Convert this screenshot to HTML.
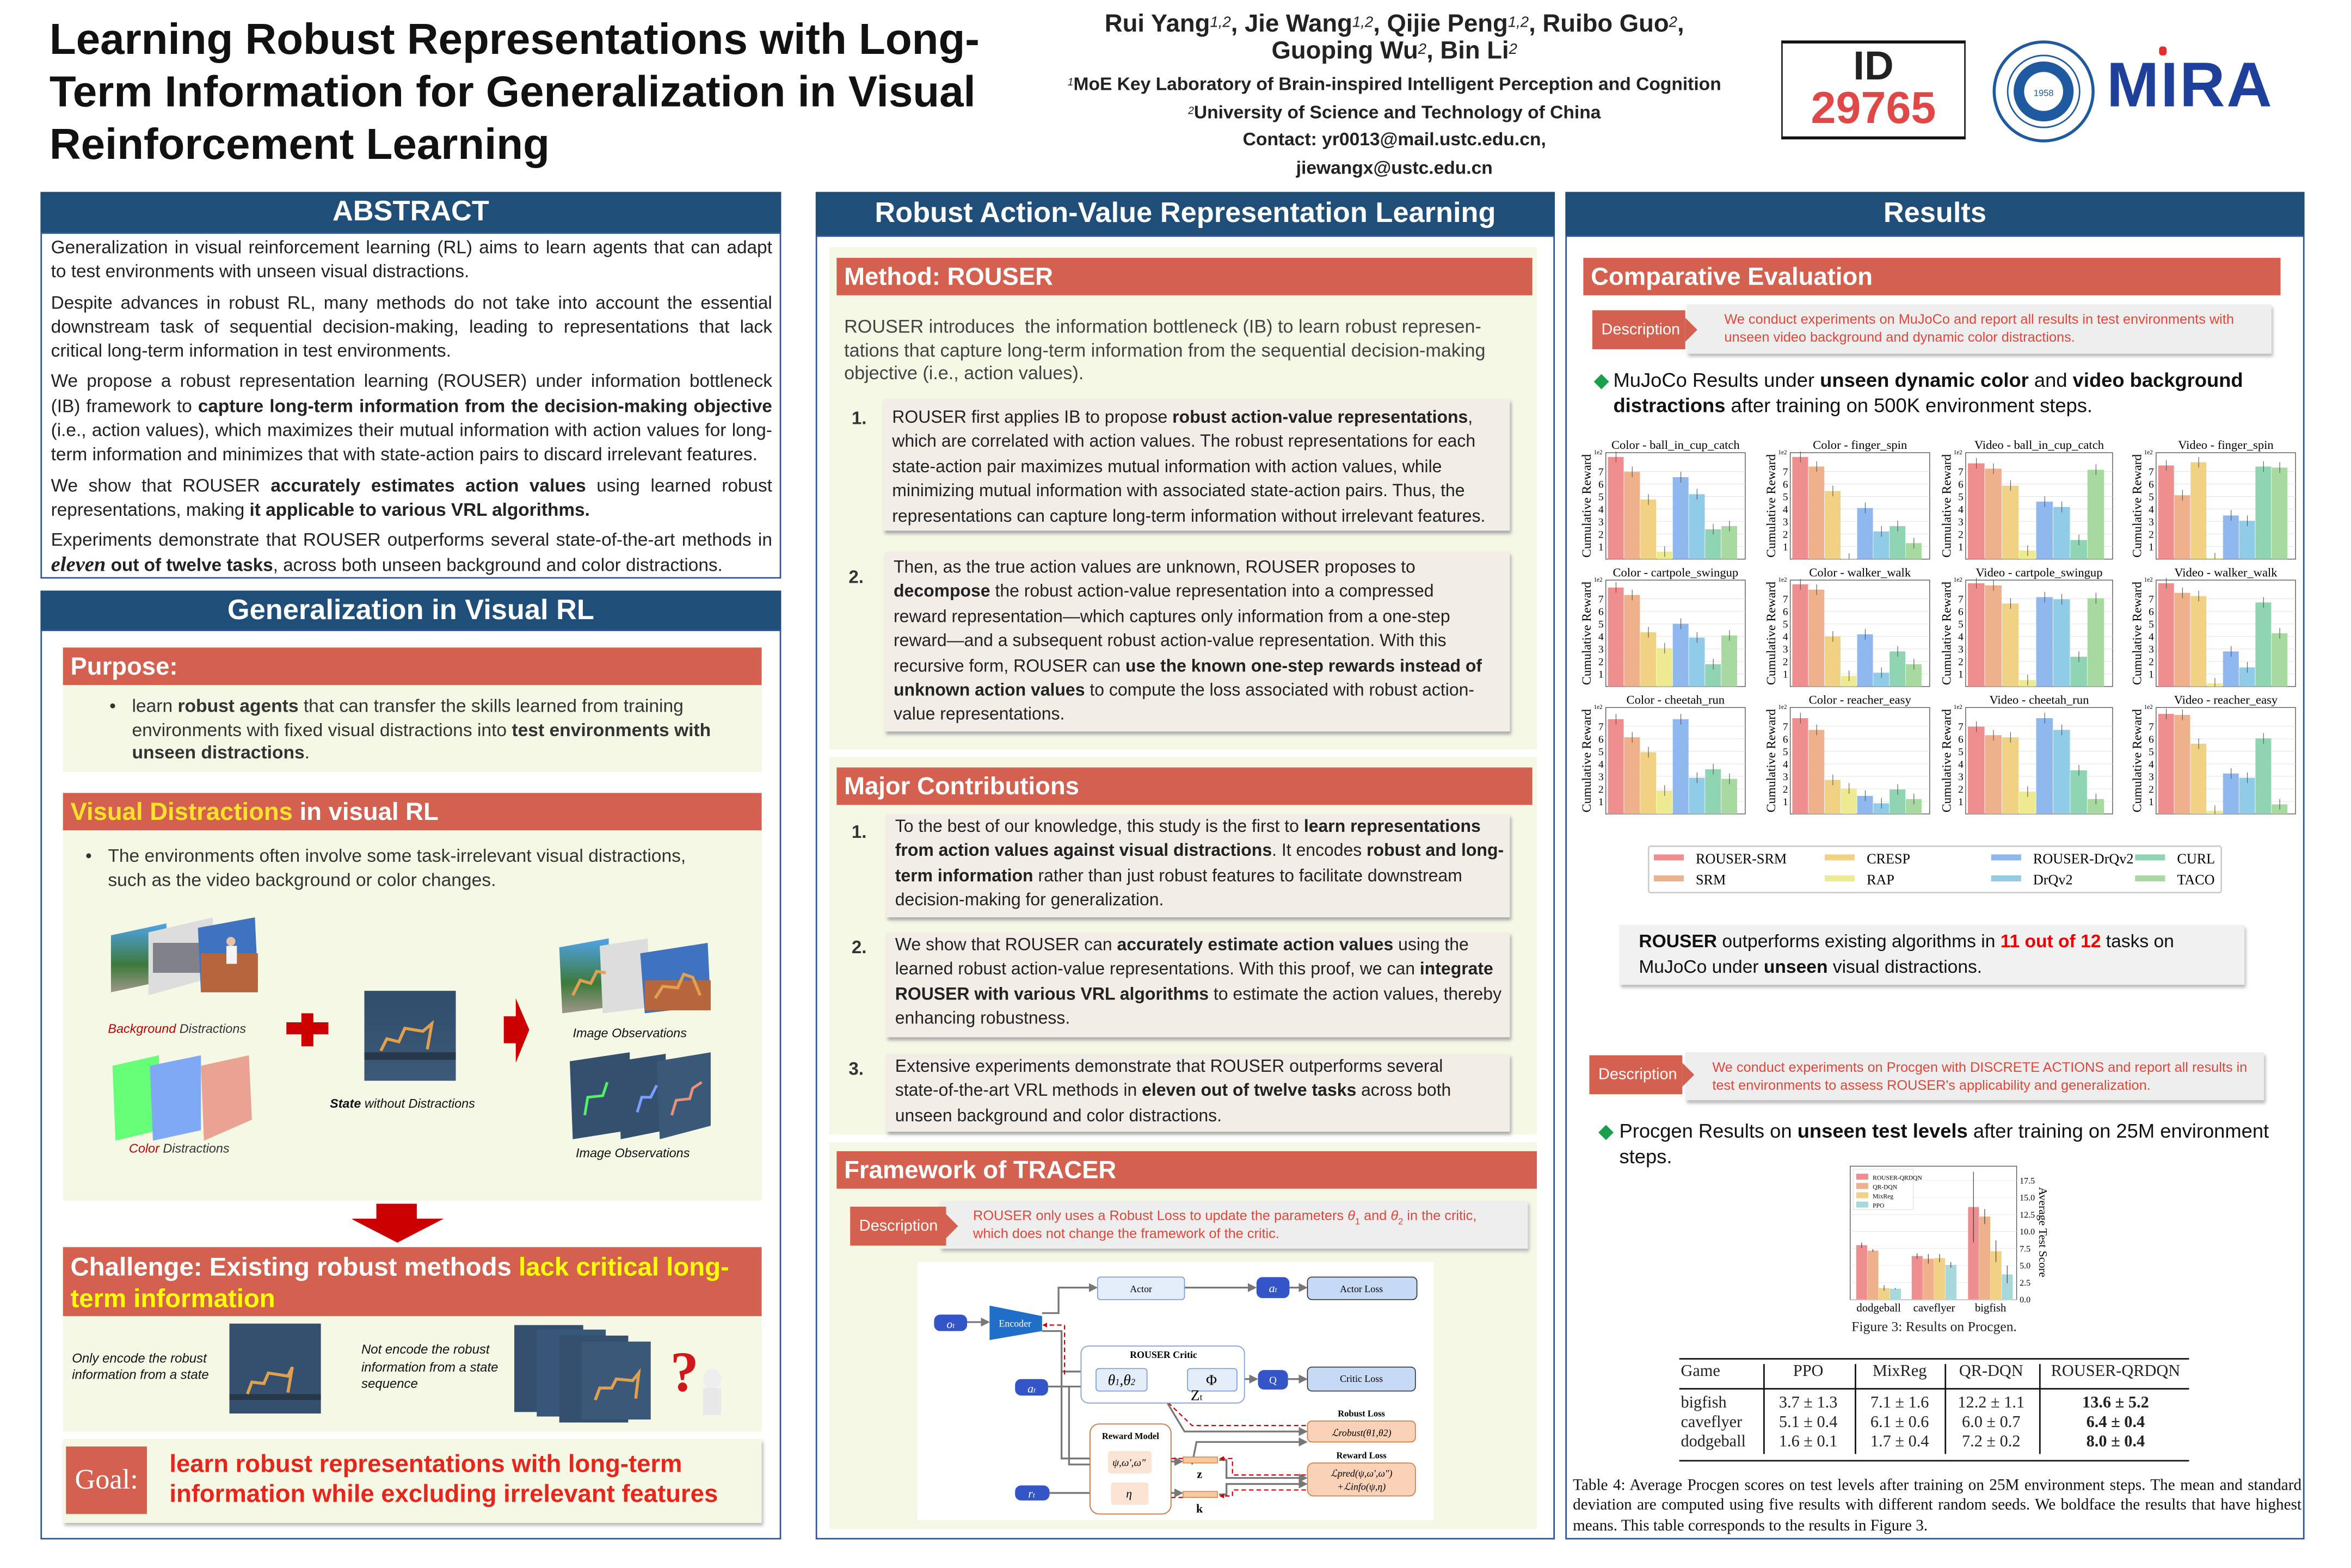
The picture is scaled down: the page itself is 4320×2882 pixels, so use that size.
<!DOCTYPE html>
<html><head><meta charset="utf-8">
<style>
html,body{margin:0;padding:0;background:#fff;}
body{width:4320px;height:2880px;overflow:hidden;position:relative;}
#p{position:absolute;left:0;top:0;width:1568px;height:1046px;transform:scale(2.755102);transform-origin:0 0;font-family:"Liberation Sans",Arial,sans-serif;color:#222;}
.a{position:absolute;}
.bh{position:absolute;background:#1f4e79;color:#fff;font-weight:bold;text-align:center;box-sizing:border-box;}
.bx{position:absolute;border:1.5px solid #2f5597;box-sizing:border-box;}
.rh{position:absolute;background:#d4604f;color:#fff;font-weight:bold;box-sizing:border-box;padding-left:5px;}
.cr{position:absolute;background:#f6f8e6;}
.it{position:absolute;background:#f2eee7;box-shadow:1px 2px 2px #aaa;font-size:11.6px;line-height:16.4px;color:#222;padding:2px 4px 2px 6px;box-sizing:border-box;}
.num{position:absolute;font-size:12px;font-weight:bold;color:#333;}
.j{text-align:justify;}
p{margin:0 0 4px 0;}
.tag{position:absolute;background:#d4604f;color:#fff;font-size:10.5px;line-height:26px;padding-left:6px;box-sizing:border-box;}
.tag:after{content:"";position:absolute;right:-8px;top:5px;border-left:8px solid #d4604f;border-top:8px solid transparent;border-bottom:8px solid transparent;}
.dt{position:absolute;background:#eeeeee;box-shadow:1px 2px 2px #bbb;color:#e0463a;font-size:9.2px;line-height:11.5px;box-sizing:border-box;padding:5px 10px 0 22px;}
.ser{font-family:"Liberation Serif",serif;}
</style></head><body>
<div id="p">
<!-- title -->
<div class="a" style="left:33px;top:10px;width:650px;font-size:29px;font-weight:bold;line-height:35px;color:#111;">Learning Robust Representations with Long-Term Information for Generalization in Visual Reinforcement Learning</div>
<div class="a" style="left:680px;top:7px;width:500px;text-align:center;font-size:16.5px;font-weight:bold;line-height:18px;">Rui Yang<i style="font-weight:normal;font-size:10px;vertical-align:top">1,2</i>, Jie Wang<i style="font-weight:normal;font-size:10px;vertical-align:top">1,2</i>, Qijie Peng<i style="font-weight:normal;font-size:10px;vertical-align:top">1,2</i>, Ruibo Guo<i style="font-weight:normal;font-size:10px;vertical-align:top">2</i>,<br>Guoping Wu<i style="font-weight:normal;font-size:10px;vertical-align:top">2</i>, Bin Li<i style="font-weight:normal;font-size:10px;vertical-align:top">2</i></div>
<div class="a" style="left:680px;top:47px;width:500px;text-align:center;font-size:12.2px;font-weight:bold;line-height:18.5px;"><i style="font-size:7px;font-weight:normal;vertical-align:top">1</i>MoE Key Laboratory of Brain-inspired Intelligent Perception and Cognition<br><i style="font-size:7px;font-weight:normal;vertical-align:top">2</i>University of Science and Technology of China<br>Contact: yr0013@mail.ustc.edu.cn,<br>jiewangx@ustc.edu.cn</div>
<div class="a" style="left:1188px;top:27px;width:123px;height:66px;border:1px solid #222;border-top:2px solid #111;border-bottom:2px solid #111;box-sizing:border-box;text-align:center;">
<div style="font-size:27px;font-weight:bold;line-height:28px;margin-top:1px;">ID</div>
<div style="font-size:30px;font-weight:bold;color:#e04848;line-height:30px;">29765</div></div>
<svg class="a" style="left:1328px;top:26px" width="70" height="70" viewBox="0 0 70 70"><circle cx="35" cy="35" r="33" fill="#fff" stroke="#1f5aa0" stroke-width="2"/><circle cx="35" cy="35" r="24" fill="none" stroke="#1f5aa0" stroke-width="1"/><circle cx="35" cy="35" r="20" fill="#1f5aa0"/><circle cx="35" cy="35" r="13" fill="#fff"/><text x="35" y="38" font-size="6" text-anchor="middle" fill="#1f5aa0">1958</text></svg>
<div class="a" style="left:1405px;top:32px;font-size:42px;font-weight:bold;color:#1e3f9a;letter-spacing:1px;font-family:'Liberation Sans',sans-serif;line-height:50px;">MIRA</div>
<div class="a" style="left:1440px;top:31px;width:5px;height:6px;background:#e03030;border-radius:2px;"></div>

<!-- LEFT column -->
<div class="bh" style="left:27px;top:128px;width:494px;height:27px;font-size:19px;line-height:28px;">ABSTRACT</div>
<div class="bx" style="left:27px;top:155px;width:494px;height:231px;"></div>
<div class="a j" style="left:34px;top:157px;width:481px;font-size:12.1px;line-height:16.3px;">
<p>Generalization in visual reinforcement learning (RL) aims to learn agents that can adapt to test environments with unseen visual distractions.</p>
<p>Despite advances in robust RL, many methods do not take into account the essential downstream task of sequential decision-making, leading to representations that lack critical long-term information in test environments.</p>
<p>We propose a robust representation learning (ROUSER) under information bottleneck (IB) framework to <b>capture long-term information from the decision-making objective</b> (i.e., action values), which maximizes their mutual information with action values for long-term information and minimizes that with state-action pairs to discard irrelevant features.</p>
<p>We show that ROUSER <b>accurately estimates action values</b> using learned robust representations, making <b>it applicable to various VRL algorithms.</b></p>
<p>Experiments demonstrate that ROUSER outperforms several state-of-the-art methods in <b><i class="ser" style="font-size:14px">eleven</i> out of twelve tasks</b>, across both unseen background and color distractions.</p></div>

<div class="bh" style="left:27px;top:394px;width:494px;height:27px;font-size:19px;line-height:27px;">Generalization in Visual RL</div>
<div class="bx" style="left:27px;top:420px;width:494px;height:607px;"></div>
<div class="rh" style="left:42px;top:432px;width:466px;height:25px;font-size:16.5px;line-height:26px;">Purpose:</div>
<div class="cr" style="left:42px;top:457px;width:466px;height:58px;"></div>
<div class="a" style="left:88px;top:464px;width:414px;font-size:12.2px;line-height:15.5px;color:#333;"><span style="position:absolute;left:-15px">•</span>learn <b>robust agents</b> that can transfer the skills learned from training environments with fixed visual distractions into <b>test environments with unseen distractions</b>.</div>

<div class="rh" style="left:42px;top:529px;width:466px;height:25px;font-size:16.5px;line-height:26px;"><span style="color:#ffe12e">Visual Distractions</span> in visual RL</div>
<div class="cr" style="left:42px;top:554px;width:466px;height:247px;"></div>
<div class="a" style="left:72px;top:564px;width:410px;font-size:12.2px;line-height:15.5px;color:#333;"><span style="position:absolute;left:-15px">•</span>The environments often involve some task-irrelevant visual distractions, such as the video background or color changes.</div>
<svg class="a" style="left:42px;top:554px" width="466" height="247" viewBox="0 0 466 247">
<defs><linearGradient id="sky" x1="0" y1="0" x2="0" y2="1"><stop offset="0" stop-color="#4fa3e8"/><stop offset=".6" stop-color="#3d7a3a"/><stop offset="1" stop-color="#a0978a"/></linearGradient>
<linearGradient id="st" x1="0" y1="0" x2="0" y2="1"><stop offset="0" stop-color="#2f4e6c"/><stop offset="1" stop-color="#3c5a78"/></linearGradient></defs>
<polygon points="32,70 69,62 69,100 32,108" fill="url(#sky)"/>
<polygon points="57,68 100,58 100,98 57,110" fill="#ddd"/><rect x="60" y="75" width="38" height="20" fill="#445" opacity=".6"/>
<polygon points="90,65 128,58 130,100 92,108" fill="#3f73c0"/><rect x="92" y="82" width="38" height="26" fill="#b7653c"/><circle cx="112" cy="74" r="3" fill="#e8c2a8"/><rect x="109" y="77" width="7" height="12" fill="#f4f4f4"/>
<text x="30" y="135" font-size="8.5" font-style="italic" fill="#b00">Background <tspan fill="#333">Distractions</tspan></text>
<polygon points="33,157 64,150 64,200 35,207" fill="#66ff77"/>
<polygon points="58,157 92,150 92,200 60,207" fill="#7fa8f5"/>
<polygon points="92,157 124,150 126,193 94,207" fill="#eaa293"/>
<text x="44" y="215" font-size="8.5" font-style="italic" fill="#b00">Color <tspan fill="#333">Distractions</tspan></text>
<rect x="149" y="128" width="28" height="8" fill="#c00"/><rect x="159" y="122" width="8" height="22" fill="#c00"/>
<rect x="201" y="107" width="61" height="60" fill="url(#st)"/><rect x="201" y="148" width="61" height="5" fill="#27384a"/>
<polyline points="212,147 216,139 224,141 228,132 240,134 246,129 243,146" fill="none" stroke="#e0a050" stroke-width="2"/>
<text x="178" y="185" font-size="8.5" font-style="italic" fill="#111"><tspan font-weight="bold">State</tspan> without Distractions</text>
<polygon points="294,124 302,124 302,112 311,133 302,155 302,142 294,142" fill="#c00"/>
<polygon points="331,78 364,72 364,118 333,122" fill="url(#sky)"/>
<polygon points="358,77 390,72 392,118 360,122" fill="#ddd"/>
<polygon points="385,82 430,75 432,117 388,122" fill="#3f73c0"/><rect x="388" y="100" width="44" height="20" fill="#b7653c"/>
<polyline points="340,110 345,100 352,102 356,94 362,95" fill="none" stroke="#e0a050" stroke-width="2"/>
<polyline points="395,112 400,104 410,105 414,96 420,98 425,110" fill="none" stroke="#e0a050" stroke-width="2"/>
<text x="340" y="138" font-size="8.5" font-style="italic" fill="#111">Image Observations</text>
<polygon points="338,154 378,148 378,200 340,206" fill="#34506e"/>
<polygon points="370,154 402,149 402,200 372,206" fill="#34506e"/>
<polygon points="396,154 432,148 432,197 398,206" fill="#3a5877"/>
<polyline points="348,190 350,178 360,177 363,168" fill="none" stroke="#55ee66" stroke-width="1.8"/>
<polyline points="383,188 386,178 392,178 396,170" fill="none" stroke="#77a0ff" stroke-width="1.8"/>
<polyline points="406,190 409,180 418,179 420,172 426,168" fill="none" stroke="#e8907a" stroke-width="1.8"/>
<text x="342" y="218" font-size="8.5" font-style="italic" fill="#111">Image Observations</text>
</svg>
<svg class="a" style="left:235px;top:803px" width="70" height="28"><polygon points="13,0 40,0 40,10 58,10 27,26 -4,10 13,10" fill="#c00" transform="translate(3,0)"/></svg>
<div class="rh" style="left:42px;top:832px;width:466px;height:46px;font-size:17.2px;line-height:21px;padding-top:3px;padding-right:20px;">Challenge: Existing robust methods <span style="color:#ffff00">lack critical long-term information</span></div>
<div class="cr" style="left:42px;top:878px;width:466px;height:77px;"></div>
<div class="a" style="left:48px;top:901px;font-size:8.7px;font-style:italic;line-height:11px;color:#111;">Only encode the robust<br>information from a state</div>
<div class="a" style="left:241px;top:895px;font-size:8.7px;font-style:italic;line-height:11.5px;color:#111;">Not encode the robust<br>information from a state<br>sequence</div>
<svg class="a" style="left:42px;top:878px" width="466" height="77">
<rect x="111" y="5" width="61" height="60" fill="#34506e"/><rect x="111" y="52" width="61" height="4" fill="#27384a"/>
<polyline points="123,52 126,44 134,45 137,38 150,40 153,34 150,51" fill="none" stroke="#e0a050" stroke-width="2"/>
<rect x="301" y="6" width="46" height="58" fill="#34506e"/><rect x="316" y="9" width="46" height="58" fill="#38557a"/><rect x="331" y="13" width="46" height="58" fill="#34506e"/><rect x="346" y="17" width="46" height="52" fill="#3a5877"/>
<polyline points="355,56 358,48 366,48 369,42 380,43 384,38 382,55" fill="none" stroke="#e0a050" stroke-width="2"/>
<text x="405" y="50" font-size="38" font-weight="bold" fill="#d01818" font-family="Liberation Serif,serif">?</text>
<ellipse cx="433" cy="42" rx="6" ry="7" fill="#eee"/><rect x="427" y="48" width="12" height="18" fill="#e8e8e8"/>
</svg>
<div class="cr" style="left:42px;top:960px;width:466px;height:56px;box-shadow:1px 2px 2px #bbb;"></div>
<div class="a" style="left:44px;top:965px;width:54px;height:45px;background:#d4604f;color:#fff;font-family:'Liberation Serif',serif;font-size:19px;line-height:45px;text-align:center;">Goal:</div>
<div class="a" style="left:113px;top:967px;font-size:16.5px;font-weight:bold;line-height:20px;color:#e8251a;">learn robust representations with long-term<br>information while excluding irrelevant features</div>

<!-- MIDDLE column -->
<div class="bh" style="left:544px;top:128px;width:493px;height:29px;font-size:19px;line-height:30px;">Robust Action-Value Representation Learning</div>
<div class="bx" style="left:544px;top:157px;width:493px;height:870px;"></div>
<div class="cr" style="left:553px;top:165px;width:472px;height:335px;"></div>
<div class="rh" style="left:558px;top:172px;width:464px;height:25px;font-size:16.5px;line-height:26px;">Method: ROUSER</div>
<div class="a" style="left:563px;top:211px;width:450px;font-size:12.4px;line-height:15.5px;color:#444;">ROUSER introduces&nbsp; the information bottleneck (IB) to learn robust represen-tations that capture long-term information from the sequential decision-making objective (i.e., action values).</div>
<div class="num" style="left:568px;top:272px;">1.</div>
<div class="it" style="left:589px;top:266px;width:418px;height:88px;padding-top:5px;">ROUSER first applies IB to propose <b>robust action-value representations</b>, which are correlated with action values. The robust representations for each state-action pair maximizes mutual information with action values, while minimizing mutual information with associated state-action pairs. Thus, the representations can capture long-term information without irrelevant features.</div>
<div class="num" style="left:566px;top:378px;">2.</div>
<div class="it" style="left:590px;top:368px;width:417px;height:120px;padding-top:3px;padding-right:14px;">Then, as the true action values are unknown, ROUSER proposes to <b>decompose</b> the robust action-value representation into a compressed reward representation—which captures only information from a one-step reward—and a subsequent robust action-value representation. With this recursive form, ROUSER can <b>use the known one-step rewards instead of unknown action values</b> to compute the loss associated with robust action-value representations.</div>

<div class="cr" style="left:553px;top:505px;width:472px;height:252px;"></div>
<div class="rh" style="left:558px;top:512px;width:464px;height:25px;font-size:16.5px;line-height:26px;">Major Contributions</div>
<div class="num" style="left:568px;top:548px;">1.</div>
<div class="it" style="left:591px;top:543px;width:416px;height:69px;padding-top:1px;">To the best of our knowledge, this study is the first to <b>learn representations from action values against visual distractions</b>. It encodes <b>robust and long-term information</b> rather than just robust features to facilitate downstream decision-making for generalization.</div>
<div class="num" style="left:568px;top:625px;">2.</div>
<div class="it" style="left:591px;top:622px;width:416px;height:70px;padding-top:1px;">We show that ROUSER can <b>accurately estimate action values</b> using the learned robust action-value representations. With this proof, we can <b>integrate ROUSER with various VRL algorithms</b> to estimate the action values, thereby enhancing robustness.</div>
<div class="num" style="left:566px;top:706px;">3.</div>
<div class="it" style="left:591px;top:703px;width:416px;height:52px;padding-top:1px;padding-right:20px;">Extensive experiments demonstrate that ROUSER outperforms several state-of-the-art VRL methods in <b>eleven out of twelve tasks</b> across both unseen background and color distractions.</div>

<div class="cr" style="left:553px;top:762px;width:472px;height:258px;"></div>
<div class="rh" style="left:558px;top:768px;width:467px;height:25px;font-size:16.5px;line-height:26px;">Framework of TRACER</div>
<div class="dt" style="left:627px;top:801px;width:392px;height:32px;">ROUSER only uses a Robust Loss to update the parameters <i>θ</i><sub style="font-size:6px;line-height:0">1</sub> and <i>θ</i><sub style="font-size:6px;line-height:0">2</sub> in the critic, which does not change the framework of the critic.</div>
<div class="tag" style="left:567px;top:805px;width:64px;height:26px;">Description</div>
<div class="a" style="left:612px;top:842px;width:344px;height:172px;background:#fff;"></div>
<svg class="a" style="left:0;top:0" width="1568" height="1046" font-family="Liberation Serif,serif">
<defs><marker id="ar" markerWidth="5" markerHeight="5" refX="4" refY="2.5" orient="auto"><path d="M0,0 L5,2.5 L0,5z" fill="#777"/></marker>
<marker id="rr" markerWidth="4" markerHeight="4" refX="3" refY="2" orient="auto"><path d="M0,0 L4,2 L0,4z" fill="#c00"/></marker></defs>
<g stroke="#777" stroke-width="1.2" fill="none" marker-end="url(#ar)">
<path d="M645,882 L659,882"/><path d="M695,876 L706,876 L706,859 L731,859"/><path d="M790,859 L837,859"/><path d="M860,859 L871,859"/>
<path d="M695,888 L708,888 L708,915 L730,915"/><path d="M699,925 L730,925"/><path d="M765,920 L791,920"/><path d="M825,920 L838,920"/><path d="M859,920 L871,920"/>
<path d="M708,915 L708,973 L738,973"/><path d="M713,925 L713,977 L738,977"/><path d="M700,996 L740,996"/>
<path d="M768,975 L788,975"/><path d="M766,996 L788,996"/>
<path d="M775,930 L790,955 L871,955"/><path d="M795,977 L798,962 L871,962"/>
<path d="M813,974 L818,974 L818,986 L871,986"/><path d="M813,997 L818,997 L818,990 L871,990"/>
</g>
<g stroke="#c00" stroke-width=".8" fill="none" stroke-dasharray="3,2" marker-end="url(#rr)">
<path d="M871,951 L795,951 L770,927 L762,927"/><path d="M710,917 L710,884 L696,884"/>
<path d="M871,984 L822,984 L822,973 L814,973"/><path d="M871,994 L822,994 L822,998 L814,998"/>
<path d="M789,973 L770,973"/><path d="M789,999 L768,999"/></g>
<rect x="623" y="877" width="22" height="11" rx="4" fill="#3355c8"/><text x="634" y="886" font-size="8" fill="#fff" text-anchor="middle" font-style="italic">o<tspan font-size="5">t</tspan></text>
<polygon points="660,871 695,878 695,888 660,894" fill="#1f6fc8"/><text x="677" y="885" font-size="6.5" fill="#fff" text-anchor="middle">Encoder</text>
<rect x="732" y="852" width="58" height="15" rx="2" fill="#e4eefa" stroke="#7a9acc" stroke-width=".6"/><text x="761" y="862" font-size="6.5" text-anchor="middle">Actor</text>
<rect x="838" y="852" width="22" height="14" rx="4" fill="#3355c8"/><text x="849" y="862" font-size="8" fill="#fff" text-anchor="middle" font-style="italic">a<tspan font-size="5">t</tspan></text>
<rect x="872" y="852" width="73" height="15" rx="3" fill="#c6daf5" stroke="#333" stroke-width=".6"/><text x="908" y="862" font-size="6.5" text-anchor="middle">Actor Loss</text>
<rect x="721" y="898" width="109" height="38" rx="5" fill="#fff" stroke="#8aa8d8" stroke-width=".7"/><text x="776" y="906" font-size="6.5" text-anchor="middle" font-weight="bold">ROUSER Critic</text>
<rect x="731" y="913" width="34" height="15" rx="2" fill="#e4eefa" stroke="#7a9acc" stroke-width=".6"/><text x="748" y="924" font-size="10" text-anchor="middle" font-style="italic">θ<tspan font-size="6">1</tspan>,θ<tspan font-size="6">2</tspan></text>
<rect x="792" y="913" width="33" height="15" rx="2" fill="#e4eefa" stroke="#7a9acc" stroke-width=".6"/><text x="808" y="924" font-size="10" text-anchor="middle">Φ</text>
<text x="798" y="934" font-size="10" text-anchor="middle">Z<tspan font-size="6">t</tspan></text>
<rect x="839" y="914" width="20" height="13" rx="4" fill="#3355c8"/><text x="849" y="923" font-size="7" fill="#fff" text-anchor="middle">Q</text>
<rect x="872" y="912" width="72" height="16" rx="3" fill="#c6daf5" stroke="#333" stroke-width=".6"/><text x="908" y="922" font-size="6.5" text-anchor="middle">Critic Loss</text>
<rect x="677" y="920" width="22" height="11" rx="4" fill="#3355c8"/><text x="688" y="929" font-size="8" fill="#fff" text-anchor="middle" font-style="italic">a<tspan font-size="5">t</tspan></text>
<text x="908" y="945" font-size="6" text-anchor="middle" font-weight="bold">Robust Loss</text>
<rect x="872" y="948" width="72" height="14" rx="3" fill="#f9d2b8" stroke="#c77a4a" stroke-width=".6"/><text x="908" y="958" font-size="6.5" text-anchor="middle" font-style="italic">ℒrobust(θ1,θ2)</text>
<rect x="727" y="950" width="54" height="60" rx="6" fill="#fff" stroke="#c77a4a" stroke-width=".7"/><text x="754" y="960" font-size="6" text-anchor="middle" font-weight="bold">Reward Model</text>
<rect x="739" y="968" width="29" height="15" rx="2" fill="#fbe4d4"/><text x="753" y="978" font-size="7" text-anchor="middle" font-style="italic">ψ,ω′,ω″</text>
<rect x="741" y="989" width="25" height="15" rx="2" fill="#fbe4d4"/><text x="753" y="999" font-size="8" text-anchor="middle" font-style="italic">η</text>
<rect x="789" y="972" width="23" height="4" fill="#f8c8a0" stroke="#e07a30" stroke-width=".5"/><text x="800" y="986" font-size="8" text-anchor="middle" font-weight="bold">z</text>
<rect x="789" y="995" width="23" height="4" fill="#f8c8a0" stroke="#e07a30" stroke-width=".5"/><text x="800" y="1009" font-size="8" text-anchor="middle" font-weight="bold">k</text>
<text x="908" y="973" font-size="6" text-anchor="middle" font-weight="bold">Reward Loss</text>
<rect x="872" y="976" width="72" height="22" rx="4" fill="#f9d2b8" stroke="#c77a4a" stroke-width=".6"/><text x="908" y="985" font-size="6.5" text-anchor="middle" font-style="italic">ℒpred(ψ,ω′,ω″)</text><text x="908" y="994" font-size="6.5" text-anchor="middle" font-style="italic">+ℒinfo(ψ,η)</text>
<rect x="677" y="991" width="23" height="10" rx="4" fill="#3355c8"/><text x="688" y="999" font-size="8" fill="#fff" text-anchor="middle" font-style="italic">r<tspan font-size="5">t</tspan></text>
</svg>

<!-- RIGHT column -->
<div class="bh" style="left:1044px;top:128px;width:493px;height:29px;font-size:19px;line-height:30px;">Results</div>
<div class="bx" style="left:1044px;top:157px;width:493px;height:870px;"></div>
<div class="rh" style="left:1056px;top:172px;width:465px;height:25px;font-size:16.5px;line-height:26px;">Comparative Evaluation</div>
<div class="dt" style="left:1125px;top:203px;width:390px;height:33px;padding-left:25px;">We conduct experiments on MuJoCo and report all results in test environments with unseen video background and dynamic color distractions.</div>
<div class="tag" style="left:1062px;top:207px;width:62px;height:26px;">Description</div>
<div class="a" style="left:1063px;top:246px;width:460px;font-size:13.2px;line-height:16.5px;color:#111;"><span style="color:#1aa04a;position:absolute;left:0">◆</span><div style="padding-left:13px">MuJoCo Results under <b>unseen dynamic color</b> and <b>video background distractions</b> after training on 500K environment steps.</div></div>
<div class="a" style="left:1099px;top:564px;width:383px;height:32px;border:1px solid #ccc;border-radius:2px;box-sizing:border-box;background:#fff;"></div>
<svg id="charts" class="a" style="left:0;top:0" width="1568" height="1046"></svg>
<div class="a" style="left:1080px;top:617px;width:417px;height:40px;background:#f1f1f1;box-shadow:1px 2px 2px #bbb;"></div>
<div class="a" style="left:1093px;top:620px;width:400px;font-size:12.2px;line-height:16.5px;color:#111;"><b>ROUSER</b> outperforms existing algorithms in <b style="color:#e00">11 out of 12</b> tasks on MuJoCo under <b>unseen</b> visual distractions.</div>
<div class="dt" style="left:1124px;top:702px;width:386px;height:32px;padding-left:18px;">We conduct experiments on Procgen with DISCRETE ACTIONS and report all results in test environments to assess ROUSER's applicability and generalization.</div>
<div class="tag" style="left:1060px;top:704px;width:62px;height:26px;">Description</div>
<div class="a" style="left:1066px;top:747px;width:460px;font-size:13.2px;line-height:16.5px;color:#111;"><span style="color:#1aa04a;position:absolute;left:0">◆</span><div style="padding-left:14px">Procgen Results on <b>unseen test levels</b> after training on 25M environment steps.</div></div>
<div class="a ser" style="left:1190px;top:881px;width:200px;text-align:center;font-size:9.3px;">Figure 3: Results on Procgen.</div>
<div class="a ser" style="left:1120px;top:906px;width:340px;height:67px;border-top:1.5px solid #111;border-bottom:1.5px solid #111;font-size:11px;"></div>
<div class="a" style="left:1120px;top:926px;width:340px;height:0;border-top:1px solid #111;"></div>
<div class="a ser" style="left:1121px;top:909px;font-size:11px;line-height:13px;">Game</div>
<div class="a ser" style="left:1121px;top:930px;font-size:11px;line-height:13px;">bigfish<br>caveflyer<br>dodgeball</div>
<div class="a ser" style="left:1177px;top:909px;width:58px;text-align:center;font-size:11px;line-height:13px;">PPO</div>
<div class="a ser" style="left:1177px;top:930px;width:58px;text-align:center;font-size:11px;line-height:13px;">3.7 ± 1.3<br>5.1 ± 0.4<br>1.6 ± 0.1</div>
<div class="a ser" style="left:1238px;top:909px;width:58px;text-align:center;font-size:11px;line-height:13px;">MixReg</div>
<div class="a ser" style="left:1238px;top:930px;width:58px;text-align:center;font-size:11px;line-height:13px;">7.1 ± 1.6<br>6.1 ± 0.6<br>1.7 ± 0.4</div>
<div class="a ser" style="left:1298px;top:909px;width:60px;text-align:center;font-size:11px;line-height:13px;">QR-DQN</div>
<div class="a ser" style="left:1298px;top:930px;width:60px;text-align:center;font-size:11px;line-height:13px;">12.2 ± 1.1<br>6.0 ± 0.7<br>7.2 ± 0.2</div>
<div class="a ser" style="left:1362px;top:909px;width:98px;text-align:center;font-size:11px;line-height:13px;">ROUSER-QRDQN</div>
<div class="a ser" style="left:1362px;top:930px;width:98px;text-align:center;font-size:11px;line-height:13px;font-weight:bold;">13.6 ± 5.2<br>6.4 ± 0.4<br>8.0 ± 0.4</div>
<div class="a" style="left:1176px;top:910px;height:60px;border-left:.8px solid #111;"></div>
<div class="a" style="left:1237px;top:910px;height:60px;border-left:.8px solid #111;"></div>
<div class="a" style="left:1297px;top:910px;height:60px;border-left:.8px solid #111;"></div>
<div class="a" style="left:1360px;top:910px;height:60px;border-left:.8px solid #111;"></div>
<div class="a ser j" style="left:1049px;top:985px;width:486px;font-size:10.6px;line-height:13.4px;color:#111;">Table 4: Average Procgen scores on test levels after training on 25M environment steps. The mean and standard deviation are computed using five results with different random seeds. We boldface the results that have highest means. This table corresponds to the results in Figure 3.</div>
</div>
<script>
(function(){
var C=["#ee8e8e","#efb08c","#f1d184","#eeea92","#8eb8ee","#90cbe8","#8fd5b4","#a7d9a0"];
var names=["ROUSER-SRM","SRM","CRESP","RAP","ROUSER-DrQv2","DrQv2","CURL","TACO"];
var titles=["Color - ball_in_cup_catch","Color - finger_spin","Video - ball_in_cup_catch","Video - finger_spin","Color - cartpole_swingup","Color - walker_walk","Video - cartpole_swingup","Video - walker_walk","Color - cheetah_run","Color - reacher_easy","Video - cheetah_run","Video - reacher_easy"];
var D=[[.96,.82,.56,.07,.77,.61,.28,.31],[.96,.87,.64,0,.48,.26,.31,.15],[.90,.85,.69,.08,.54,.49,.18,.84],[.88,.60,.91,.01,.41,.36,.87,.86],
[.93,.86,.51,.36,.59,.46,.21,.48],[.96,.91,.47,.10,.49,.13,.33,.21],[.97,.95,.78,.06,.84,.82,.28,.83],[.97,.88,.85,.03,.33,.18,.79,.50],
[.89,.72,.58,.22,.89,.34,.42,.33],[.90,.79,.32,.24,.17,.10,.23,.14],[.82,.74,.72,.21,.90,.79,.41,.14],[.94,.93,.66,.03,.38,.34,.71,.09]];
var cols=[[1071,1164],[1194,1287],[1311,1409],[1438,1531]],rows=[[302,373],[387,458],[472,543]];
var s="";
for(var k=0;k<12;k++){var r=rows[Math.floor(k/4)],c=cols[k%4],x0=c[0],x1=c[1],y0=r[0],y1=r[1],W=x1-x0,H=y1-y0;
s+='<rect x="'+x0+'" y="'+y0+'" width="'+W+'" height="'+H+'" fill="#fff" stroke="#555" stroke-width=".5"/>';
for(var g=1;g<8;g++){s+='<line x1="'+x0+'" x2="'+x1+'" y1="'+(y1-H*g/8.5)+'" y2="'+(y1-H*g/8.5)+'" stroke="#ddd" stroke-width=".3"/>';
s+='<text x="'+(x0-1.5)+'" y="'+(y1-H*g/8.5+2.5)+'" font-size="7" text-anchor="end">'+g+'</text>';}
var bw=W*0.93/8,bx=x0+W*0.015;
for(var i=0;i<8;i++){var h=Math.max(D[k][i]*H,0.3);s+='<rect x="'+(bx+i*bw)+'" y="'+(y1-h)+'" width="'+(bw-0.3)+'" height="'+h+'" fill="'+C[i]+'"/>';
var e=H*0.05;s+='<line x1="'+(bx+i*bw+bw/2)+'" x2="'+(bx+i*bw+bw/2)+'" y1="'+(y1-h-e)+'" y2="'+Math.min(y1,y1-h+e)+'" stroke="#555" stroke-width=".4"/>';}
s+='<text x="'+((x0+x1)/2)+'" y="'+(y0-2.5)+'" font-size="8.2" text-anchor="middle">'+titles[k]+'</text>';
s+='<text x="'+(x0-8)+'" y="'+(y0+1)+'" font-size="4">1e2</text>';
s+='<text transform="translate('+(x0-10)+','+((y0+y1)/2)+') rotate(-90)" font-size="8.6" text-anchor="middle">Cumulative Reward</text>';}
var lx=[1103,1217,1328,1424];
for(var i=0;i<8;i++){var cx=lx[Math.floor(i/2)],cy=i%2?589:575;s+='<rect x="'+cx+'" y="'+(cy-5)+'" width="20" height="4" fill="'+C[i]+'"/><text x="'+(cx+28)+'" y="'+(cy+1)+'" font-size="9.5">'+names[i]+'</text>';}
var px0=1234,px1=1345,py0=778,py1=867,ph=py1-py0,vmax=19.6;
s+='<rect x="'+px0+'" y="'+py0+'" width="'+(px1-px0)+'" height="'+ph+'" fill="#fff" stroke="#555" stroke-width=".5"/>';
var tk=["0.0","2.5","5.0","7.5","10.0","12.5","15.0","17.5"];
for(var t=0;t<8;t++){var yy=py1-ph*t*2.5/vmax;s+='<line x1="'+px0+'" x2="'+px1+'" y1="'+yy+'" y2="'+yy+'" stroke="#e4e4e4" stroke-width=".3"/><text x="'+(px1+2)+'" y="'+(yy+2)+'" font-size="5.8">'+tk[t]+'</text>';}
var PC=["#ee8e8e","#efb08c","#f1d184","#a6d8dc"],PV=[[8.0,7.2,1.7,1.6],[6.4,6.0,6.1,5.1],[13.6,12.2,7.1,3.7]],PE=[[.4,.2,.4,.1],[.4,.7,.6,.4],[5.2,1.1,1.6,1.3]],gx=[1238,1275,1312.6],gn=["dodgeball","caveflyer","bigfish"];
for(var g=0;g<3;g++){for(var i=0;i<4;i++){var h=PV[g][i]/vmax*ph,xx=gx[g]+i*7.5;s+='<rect x="'+xx+'" y="'+(py1-h)+'" width="7.3" height="'+h+'" fill="'+PC[i]+'"/>';
var e=PE[g][i]/vmax*ph;s+='<line x1="'+(xx+3.6)+'" x2="'+(xx+3.6)+'" y1="'+(py1-h-e)+'" y2="'+(py1-h+e)+'" stroke="#333" stroke-width=".4"/>';}
s+='<text x="'+(gx[g]+15)+'" y="'+(py1+8)+'" font-size="7.5" text-anchor="middle">'+gn[g]+'</text>';}
var ln=["ROUSER-QRDQN","QR-DQN","MixReg","PPO"];
s+='<rect x="1236" y="780" width="40" height="27" fill="#fff" stroke="#ddd" stroke-width=".4"/>';
for(var i=0;i<4;i++){s+='<rect x="1238" y="'+(783+i*6.2)+'" width="8" height="4" fill="'+PC[i]+'"/><text x="1249" y="'+(787+i*6.2)+'" font-size="4.2">'+ln[i]+'</text>';}
s+='<text transform="translate(1360,822) rotate(90)" font-size="7.8" text-anchor="middle">Average Test Score</text>';
var sv=document.getElementById("charts");sv.setAttribute("font-family","Liberation Serif,serif");sv.innerHTML=s;
})();
</script>
</body></html>
